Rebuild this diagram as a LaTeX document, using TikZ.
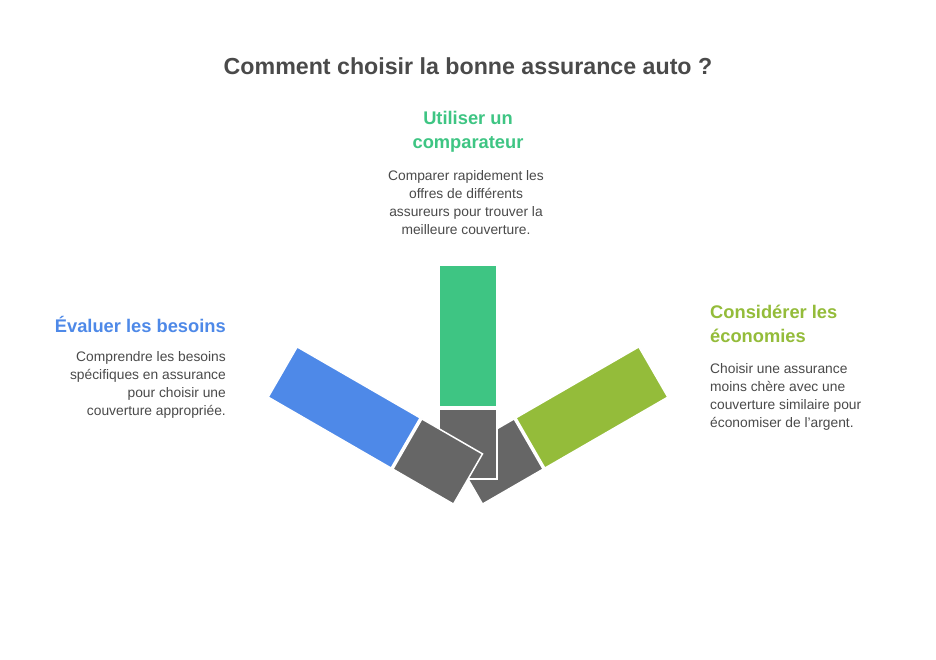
\documentclass[tikz,border=0pt]{standalone}
\usepackage{fontspec}
\setmainfont{Liberation Sans}
\begin{document}
\begin{tikzpicture}[x=1pt,y=-1pt,
  gr/.style={fill=gry,draw=white,line width=1.5pt},
  col/.style={draw=white,line width=1.5pt},
  hd/.style={font=\bfseries\fontsize{18.3}{24}\selectfont,inner sep=0},
  bd/.style={font=\fontsize{13.8}{18}\selectfont,text=txt,inner sep=0}]
\definecolor{gry}{HTML}{666666}
\definecolor{txt}{HTML}{4A4A4A}
\definecolor{cb}{HTML}{4E89E8}
\definecolor{cg}{HTML}{3EC583}
\definecolor{cl}{HTML}{94BC3A}
\useasboundingbox[fill=white] (0,0) rectangle (936,660);
\node[font=\bfseries\fontsize{23.2}{28}\selectfont,text=txt] (t) at (468,66) {Comment choisir la bonne assurance auto ?};
% right arm
\begin{scope}[shift={(468,479)},rotate=-60]
\fill[gr] (-29,0) rectangle (29,-70);
\fill[col,fill=cl] (-29,-72) rectangle (29,-214);
\end{scope}
% center arm
\begin{scope}[shift={(468,479)}]
\fill[gr] (-29,0) rectangle (29,-70);
\fill[col,fill=cg] (-29,-72) rectangle (29,-214);
\end{scope}
% left arm
\begin{scope}[shift={(468,479)},rotate=60]
\fill[gr] (-29,0) rectangle (29,-70);
\fill[col,fill=cb] (-29,-72) rectangle (29,-214);
\end{scope}
% texts
\node[hd,text=cb,anchor=east] (h1) at (226,324) {Évaluer les besoins};
\node[bd,anchor=north east,align=right] (b1) at (226,351) {Comprendre les besoins\\spécifiques en assurance\\pour choisir une\\couverture appropriée.};
\node[hd,text=cg,align=center] (h2) at (468,132) {Utiliser un\\comparateur};
\node[bd,anchor=north,align=center] (b2) at (466,170) {Comparer rapidement les\\offres de différents\\assureurs pour trouver la\\meilleure couverture.};
\node[hd,text=cl,anchor=west,align=left] (h3) at (710,324) {Considérer les\\économies};
\node[bd,anchor=north west,align=left] (b3) at (710,363) {Choisir une assurance\\moins chère avec une\\couverture similaire pour\\économiser de l'argent.};
\end{tikzpicture}
\end{document}
